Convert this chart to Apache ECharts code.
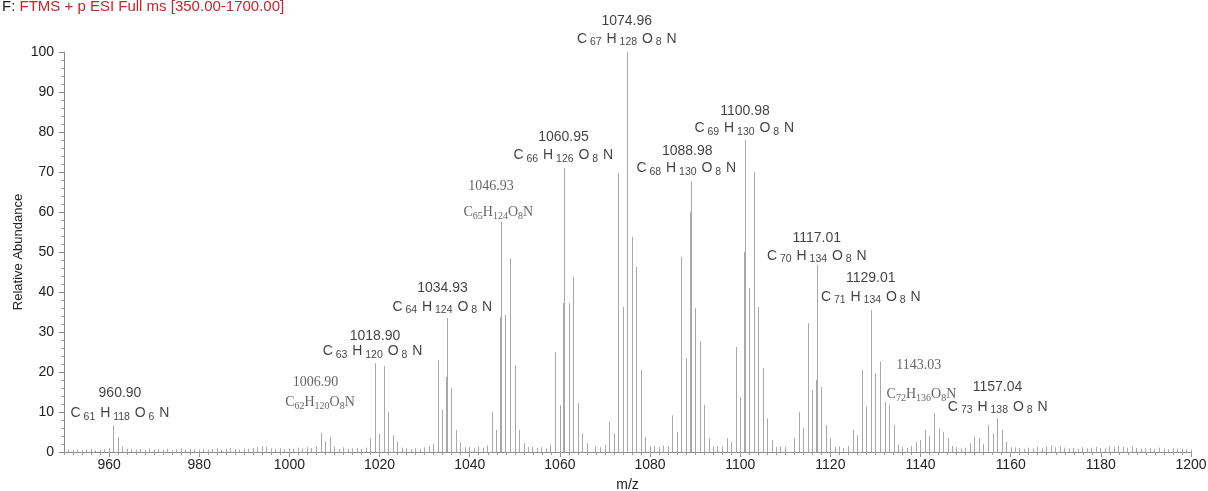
<!DOCTYPE html>
<html><head><meta charset="utf-8">
<script src="https://cdn.jsdelivr.net/npm/echarts@6/dist/echarts.min.js"></script>
<style>html,body{margin:0;padding:0;background:#fff}#chart{width:1208px;height:491px}</style>
</head><body><div id="chart"></div>
<script>
// ---------------- data ----------------
const xTickValues = [960, 980, 1000, 1020, 1040, 1060, 1080, 1100, 1120, 1140, 1160, 1180, 1200];

// peak clusters: [m/z, relative abundance]
const c961  = [[959.9,0.9],[960.90,6.7],[961.90,3.7],[962.91,1.3],[963.9,0.8]];
const c1007 = [[1004.9,1.0],[1005.9,1.5],[1006.90,4.8],[1007.90,2.7],[1008.91,3.8],[1009.91,1.3],[1010.9,0.8]];
const c1019 = [[1016.9,1.1],[1017.9,3.4],[1018.90,22.2],[1019.90,4.6],[1020.91,21.5],[1021.91,10.0],[1022.91,4.2],[1023.92,2.6],[1024.9,1.1]];
const c1035 = [[1031.9,2.0],[1032.92,23.0],[1033.92,10.5],[1034.78,18.8],[1034.93,33.5],[1035.93,16.0],[1036.94,5.5],[1037.94,2.4],[1038.9,1.2]];
const c1047 = [[1043.9,1.5],[1044.91,10.0],[1045.92,5.5],[1046.78,33.8],[1046.93,57.6],[1047.93,34.3],[1048.93,48.4],[1049.94,21.7],[1050.94,5.5],[1051.94,2.2],[1052.9,1.2]];
const c1061 = [[1057.9,1.8],[1058.94,25.0],[1059.94,11.7],[1060.80,37.2],[1060.95,71.0],[1061.95,37.2],[1062.96,43.8],[1063.96,12.2],[1064.96,4.7],[1065.97,2.2]];
const c1075 = [[1069.9,1.5],[1070.95,7.6],[1071.95,4.7],[1072.95,69.7],[1073.95,36.3],[1074.81,89.3],[1074.96,100],[1075.96,53.8],[1076.97,46.3],[1077.97,20.5],[1078.97,3.8],[1079.97,1.5]];
const c1089 = [[1083.9,1.5],[1084.95,9.2],[1085.95,5.0],[1086.95,48.8],[1087.96,23.4],[1088.83,60.0],[1088.98,67.6],[1089.98,36.0],[1090.98,27.6],[1091.99,11.8],[1092.99,3.4],[1093.99,1.3]];
const c1101 = [[1095.9,1.3],[1096.97,3.4],[1097.97,2.5],[1098.98,26.3],[1099.98,13.8],[1100.83,50.0],[1100.98,78.0],[1101.98,41.0],[1102.98,70.0],[1103.12,37.2],[1103.99,36.3],[1104.99,21.0],[1105.99,8.4],[1106.99,3.0],[1108.0,1.2]];
const c1117 = [[1111.99,3.5],[1112.99,10.0],[1113.99,6.0],[1115.0,32.2],[1116.0,15.5],[1116.86,18.0],[1117.01,46.8],[1118.01,16.3],[1119.01,6.8],[1120.02,3.4],[1121.0,1.2]];
const c1129 = [[1123.9,1.5],[1124.95,5.5],[1125.95,4.2],[1127.0,20.5],[1128.0,11.3],[1129.01,35.5],[1130.01,19.7],[1131.01,22.6],[1132.02,12.6],[1133.02,11.8],[1134.02,6.8],[1135.02,1.8]];
const c1143 = [[1137.9,1.5],[1138.95,2.5],[1139.95,3.0],[1140.95,5.5],[1141.96,4.0],[1143.03,9.7],[1144.03,5.9],[1145.03,5.0],[1146.04,3.4],[1147.04,1.5]];
const c1157 = [[1150.9,2.2],[1151.95,3.8],[1152.96,3.4],[1153.96,2.0],[1155.04,6.8],[1156.04,4.7],[1157.04,8.4],[1158.04,5.5],[1159.05,2.6],[1160.0,1.2]];

// small baseline peaks, one per nominal mass starting at 950.9
const noiseStart = 950.9;
const noiseHeights = [
  0.6,0.5,0.7,0.5,0.6,0.8,0.5,0.6,0.7,0.9,
  0,0,0,0,0.8,0.6,0.7,0.5,0.9,0.6,
  0.7,0.6,0.8,0.5,0.7,0.9,0.6,0.8,0.7,0.6,
  0.8,0.6,0.7,0.9,0.6,0.8,1.0,0.7,0.6,0.9,
  0.8,1.0,1.2,1.5,1.3,0.9,0.8,1.0,0.7,0.9,
  0.8,1.1,0.9,1.2,0,0,0,0,0,0,
  0,1.2,0.8,0.9,1.0,0.7,0,0,0,0,
  0,0,0,0,0,0.9,0.7,1.0,0.8,1.2,
  1.5,0,0,0,0,0,0,0,0,1.3,
  1.0,1.4,1.1,1.6,0,0,0,0,0,0,
  0,0,0,1.3,1.0,1.2,0.9,1.6,0,0,
  0,0,0,0,0,0,0,1.5,1.2,1.8,
  0,0,0,0,0,0,0,0,0,0,
  1.5,1.2,1.6,1.0,0,0,0,0,0,0,
  0,0,0,0,1.5,0,0,0,0,0,
  0,0,0,0,0,0,0,0,1.4,1.3,
  0,0,0,0,0,0,0,0,0,0,
  0,1.4,1.0,0,0,0,0,0,0,0,
  0,0,0,0,0,1.3,1.0,0,0,0,
  0,0,0,0,0,0,0,1.2,0.9,1.1,
  0,0,0,0,0,0,0,0,0,0,
  1.2,1.0,0.8,1.1,0.9,1.3,1.0,1.4,1.6,1.2,
  1.5,1.1,0.9,1.0,0.8,1.2,0.9,1.1,1.3,1.0,
  0.9,1.4,1.2,1.6,1.3,1.1,1.5,1.0,0.8,0.9,
  1.0,0.8,1.1,0.9,0.7,1.0,0.8,0.9,0.7,0.6
];

// annotations
const labelMass = ['960.90','1006.90','1018.90','1034.93','1046.93','1060.95','1074.96','1088.98','1100.98','1117.01','1129.01','1143.03','1157.04'];
const labelC = [61,62,63,64,65,66,67,68,69,70,71,72,73];
const labelH = [118,120,120,124,124,126,128,130,130,134,134,136,138];
const labelO = [6,8,8,8,8,8,8,8,8,8,8,8,8];

const titlePrefix = 'F: ';
const titleText = 'FTMS + p ESI Full ms [350.00-1700.00]';

// ---------------- layout (annotation anchors in axis units, font style) ----------------
const annoLayout = [
  {num:[962.42,14.7], form:[962.42,9.7], font:'sans'},
  {num:[1005.79,17.5], form:[1006.79,12.4], font:'serif'},
  {num:[1018.99,29.0], form:[1018.43,25.1], font:'sans'},
  {num:[1033.96,40.9], form:[1033.9,36.3], font:'sans'},
  {num:[1044.72,66.3], form:[1046.34,59.8], font:'serif'},
  {num:[1060.80,78.6], form:[1060.76,74.1], font:'sans'},
  {num:[1074.82,107.6], form:[1074.84,103.25], font:'sans'},
  {num:[1088.24,75.1], form:[1088.04,70.9], font:'sans'},
  {num:[1101.07,85.3], form:[1100.91,80.9], font:'sans'},
  {num:[1116.97,53.4], form:[1116.99,49.0], font:'sans'},
  {num:[1128.97,43.4], form:[1128.97,38.8], font:'sans'},
  {num:[1139.6,21.6], form:[1140.2,14.3], font:'serif'},
  {num:[1157.08,16.1], form:[1157.12,11.3], font:'sans'}
];

const SANS = "'Liberation Sans', Arial, sans-serif";
const SERIF = "'Liberation Serif', 'Times New Roman', serif";

const chart = echarts.init(document.getElementById('chart'), null, {renderer:'canvas'});

const allPeaks = [].concat(c961,c1007,c1019,c1035,c1047,c1061,c1075,c1089,c1101,c1117,c1129,c1143,c1157);
const noisePeaks = noiseHeights.map((h,i)=>[+(noiseStart+i).toFixed(2), h]).filter(d=>d[1]>0);

function peakSeries(data, color) {
  return {
    type:'custom', coordinateSystem:'cartesian2d', xAxisIndex:0, yAxisIndex:0,
    data, encode:{x:0, y:1}, silent:true, clip:false, animation:false,
    renderItem(params, api) {
      const x = api.value(0), h = api.value(1);
      const p0 = api.coord([x,0]), p1 = api.coord([x,h]);
      const px = Math.round(p0[0]) + 0.5;
      return {type:'line', shape:{x1:px, y1:p0[1], x2:px, y2:p1[1]}, style:{stroke:color, lineWidth:1}};
    }
  };
}

function formulaRich(i, font) {
  if (font === 'sans') return 'C{s| ' + labelC[i] + '} H{s| ' + labelH[i] + '} O{s| ' + labelO[i] + '} N';
  return 'C{s|' + labelC[i] + '}H{s|' + labelH[i] + '}O{s|' + labelO[i] + '}N';
}

function annoSeries(font, kind) {
  const data = [];
  annoLayout.forEach((a,i)=>{
    if (a.font !== font) return;
    data.push({value: kind === 'num' ? a.num : a.form, name: kind === 'num' ? labelMass[i] : formulaRich(i, font)});
  });
  const isSans = font === 'sans';
  return {
    type:'scatter', data, symbolSize:0, clip:false, silent:true, animation:false, z:5,
    label:{
      show:true, position:'inside', formatter:p=>p.name,
      fontFamily: isSans ? SANS : SERIF, fontSize:14, lineHeight:18,
      color: isSans ? '#111' : '#3c3c3c',
      rich:{ s:{fontFamily: isSans ? SANS : SERIF, fontSize: isSans ? 10.5 : 10, lineHeight:12, verticalAlign:'bottom',
                color: isSans ? '#111' : '#3c3c3c', padding: isSans ? [0,1,0,0] : [0,0,0,0]} }
    }
  };
}

const option = {
  backgroundColor:'#fff',
  animation:false,
  grid:{left:64, right:17, top:52, bottom:39, containLabel:false, outerBoundsMode:'none'},
  graphic:[{
    type:'text', left:2, top:-1, silent:true,
    style:{
      text:'{a|' + titlePrefix + '}{b|' + titleText + '}',
      rich:{a:{fontFamily:SANS, fontSize:15, fill:'#222'}, b:{fontFamily:SANS, fontSize:15, fill:'#c8242c'}},
      font:"15px 'Liberation Sans'"
    }
  }],
  xAxis:[{
    type:'value', min:950, max:1200, position:'bottom',
    name:'m/z', nameLocation:'middle', nameGap:26, nameMoveOverlap:false,
    nameTextStyle:{fontFamily:SANS, fontSize:14, color:'#222'},
    axisLine:{show:true, lineStyle:{color:'#8a8a8a', width:1}},
    axisTick:{show:true, length:5, lineStyle:{color:'#8a8a8a'}, customValues:xTickValues},
    axisLabel:{show:true, fontFamily:SANS, fontSize:14, color:'#222', margin:6, customValues:xTickValues,
               formatter:v=>String(v)},
    splitLine:{show:false}, minorTick:{show:false}
  },{
    type:'value', min:950, max:1200, interval:2, position:'bottom',
    axisLine:{show:false}, axisLabel:{show:false}, splitLine:{show:false},
    axisTick:{show:true, length:3, lineStyle:{color:'#9a9a9a'}}
  }],
  yAxis:{
    type:'value', min:0, max:100, interval:10,
    name:'Relative Abundance', nameLocation:'middle', nameGap:39, nameRotate:90, nameMoveOverlap:false,
    nameTextStyle:{fontFamily:SANS, fontSize:13, color:'#222'},
    axisLine:{show:true, lineStyle:{color:'#8a8a8a', width:1}},
    axisTick:{show:true, length:5, lineStyle:{color:'#8a8a8a'}},
    minorTick:{show:true, splitNumber:5, length:3, lineStyle:{color:'#9a9a9a'}},
    axisLabel:{fontFamily:SANS, fontSize:14, color:'#222', margin:10, formatter:v=>String(v)},
    splitLine:{show:false}
  },
  series:[
    peakSeries(noisePeaks, '#ababab'),
    peakSeries(allPeaks, '#a8a8a8'),
    annoSeries('sans','num'), annoSeries('sans','form'),
    annoSeries('serif','num'), annoSeries('serif','form')
  ]
};
chart.setOption(option);
</script></body></html>
